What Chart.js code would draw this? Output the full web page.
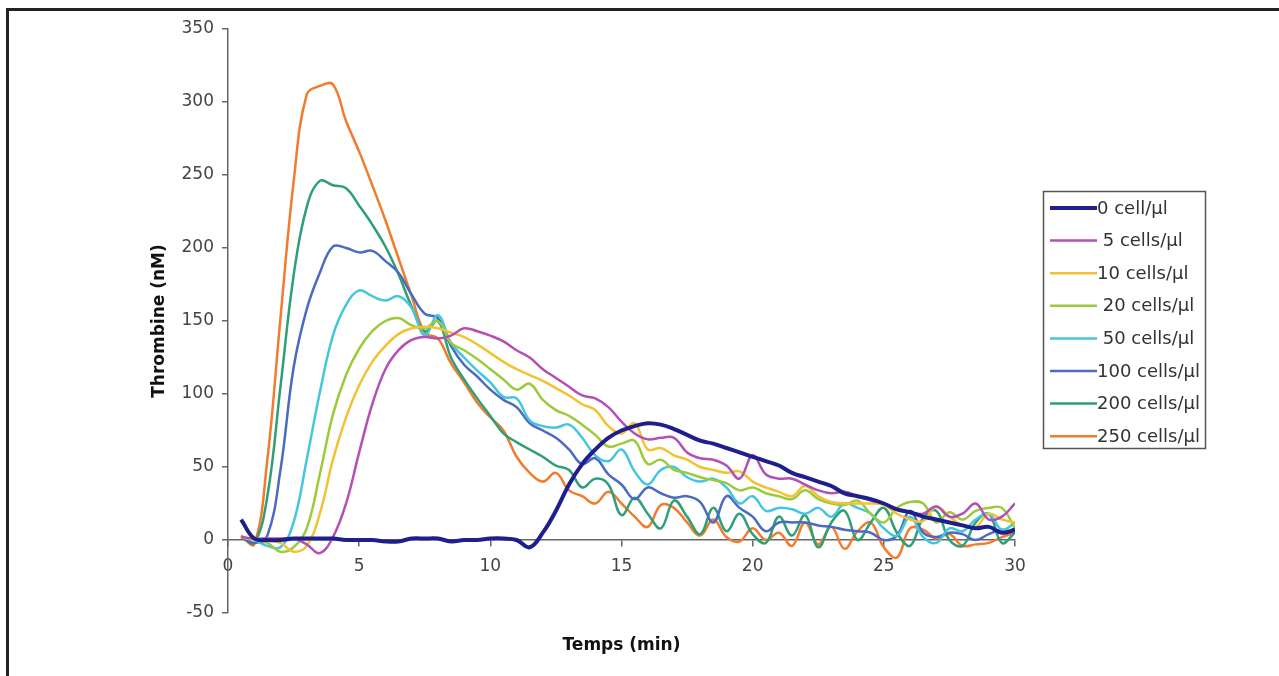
<!DOCTYPE html>
<html>
<head>
<meta charset="utf-8">
<title>Thrombine</title>
<script src="https://cdn.jsdelivr.net/npm/chart.js@4.4.1/dist/chart.umd.min.js"></script>
<style>
  body { margin: 0; background: #fff; overflow: hidden; }
  #frame { position: absolute; left: 6px; top: 8px; width: 1300px; height: 700px;
           border-left: 3px solid #222; border-top: 3px solid #222; }
  #chart { position: absolute; left: 0; top: 0; }
</style>
</head>
<body>
<div id="frame"></div>
<canvas id="chart" width="1279" height="676"></canvas>
<script>
// temps (min), pas de 0.5
const times = [0, 0.5, 1, 1.5, 2, 2.5, 3, 3.5, 4, 4.5, 5, 5.5, 6, 6.5, 7, 7.5, 8, 8.5, 9, 9.5,
  10, 10.5, 11, 11.5, 12, 12.5, 13, 13.5, 14, 14.5, 15, 15.5, 16, 16.5, 17, 17.5, 18, 18.5, 19, 19.5,
  20, 20.5, 21, 21.5, 22, 22.5, 23, 23.5, 24, 24.5, 25, 25.5, 26, 26.5, 27, 27.5, 28, 28.5, 29, 29.5, 30];

const seriesNames = ['0 cell/µl', ' 5 cells/µl', '10 cells/µl', ' 20 cells/µl', ' 50 cells/µl',
  '100 cells/µl', '200 cells/µl', '250 cells/µl'];
const seriesColors = ['#1e1f8c', '#b44fb4', '#f3c232', '#9bcb3b', '#44c6de', '#4b6bc1', '#2f9f77', '#f27b2c'];

// thrombine (nM)
const cells0 = [null, 14, 1, 0, 0, 1, 1, 1, 1, 0, 0, 0, -1, -1, 1, 1, 1, -1, 0, 0, 1, 1, 0, -5, 5, 20,
  38, 52, 62, 70, 75, 78, 80, 79, 76, 72, 68, 66, 63, 60, 57, 54, 51, 46, 43, 40, 37, 32, 30, 28, 25,
  21, 19, 16, 14, 12, 10, 8, 9, 5, 7];
const cells5 = [null, 2, 1, 1, 1, 1, -3, -9, 2, 25, 60, 93, 117, 130, 137, 139, 138, 140, 145, 143,
  140, 136, 130, 125, 117, 111, 105, 99, 97, 91, 81, 73, 69, 70, 70, 60, 56, 55, 51, 42, 58, 45, 42,
  42, 38, 34, 32, 33, 30, 27, 25, 21, 19, 18, 23, 16, 18, 25, 14, 16, 25];
const cells10 = [null, 2, 0, 0, -2, -8, -4, 18, 55, 84, 106, 122, 133, 141, 145, 146, 145, 142, 139,
  134, 128, 122, 117, 113, 109, 104, 99, 93, 89, 78, 73, 80, 62, 63, 58, 55, 50, 48, 46, 47, 40, 36,
  33, 30, 37, 30, 26, 25, 25, 25, 24, 18, 14, 13, 23, 16, 10, 9, 18, 14, 12];
const cells20 = [null, 2, 0, -2, -8, -5, 8, 45, 86, 113, 131, 143, 150, 152, 147, 145, 150, 135, 130,
  124, 117, 110, 103, 107, 96, 89, 85, 79, 72, 64, 66, 68, 52, 55, 48, 46, 43, 41, 39, 34, 36, 32, 30,
  28, 34, 28, 25, 24, 27, 18, 12, 22, 26, 25, 12, 19, 14, 20, 22, 22, 8];
const cells50 = [null, 2, 0, -4, -5, 12, 55, 101, 140, 161, 171, 167, 164, 167, 159, 140, 154, 135,
  125, 116, 108, 98, 97, 82, 78, 77, 79, 70, 58, 54, 62, 47, 38, 48, 50, 43, 40, 42, 36, 25, 30, 20,
  22, 21, 18, 22, 16, 25, 22, 18, 8, 3, 16, 2, -2, 8, 6, 14, 18, 7, 12];
const cells100 = [null, 2, -2, 3, 48, 118, 158, 183, 201, 200, 197, 198, 191, 183, 168, 155, 152, 133,
  120, 112, 103, 96, 91, 80, 75, 70, 62, 52, 56, 45, 38, 28, 36, 32, 29, 30, 26, 12, 30, 22, 16, 6,
  12, 12, 12, 10, 9, 7, 6, 5, 0, 3, 20, 5, 2, 5, 4, 0, 4, 7, 5];
const cells200 = [null, 2, -2, 30, 105, 181, 228, 246, 243, 241, 229, 216, 201, 182, 160, 143, 150,
  125, 110, 97, 85, 73, 67, 62, 57, 51, 48, 36, 42, 38, 17, 29, 18, 8, 27, 16, 4, 22, 6, 18, 4, -2,
  16, 3, 17, -5, 12, 20, 0, 12, 22, 5, -4, 15, 20, 0, -4, 12, 18, -2, 5];
const cells250 = [null, 3, -3, 55, 152, 245, 305, 311, 312, 287, 266, 243, 219, 193, 167, 142, 138,
  121, 108, 94, 84, 75, 57, 46, 40, 46, 34, 30, 25, 33, 25, 16, 9, 24, 22, 12, 3, 14, 2, -1, 8, 0, 5,
  -4, 12, -3, 9, -6, 6, 12, -5, -12, 8, 7, 1, 4, -4, -3, -2, 2, 5];

const allSeries = [cells0, cells5, cells10, cells20, cells50, cells100, cells200, cells250];

const FONT = "'DejaVu Sans', sans-serif";

// légende encadrée à droite, comme dans la figure
const boxedLegend = {
  id: 'boxedLegend',
  afterDraw(chart) {
    const ctx = chart.ctx;
    ctx.save();
    ctx.strokeStyle = '#555';
    ctx.lineWidth = 1.5;
    ctx.strokeRect(1043.5, 191.5, 162, 257);
    ctx.font = '18px ' + FONT;
    ctx.fillStyle = '#333';
    ctx.textBaseline = 'middle';
    chart.data.datasets.forEach(function (ds, i) {
      const y = 208 + i * 32.6;
      ctx.strokeStyle = ds.borderColor;
      ctx.lineWidth = ds.borderWidth;
      ctx.beginPath();
      ctx.moveTo(1050, y);
      ctx.lineTo(1097, y);
      ctx.stroke();
      ctx.fillText(ds.label, 1097, y + 1);
    });
    ctx.restore();
  }
};

const datasets = allSeries.map(function (values, i) {
  return {
    label: seriesNames[i],
    data: values.map(function (v, j) { return { x: times[j], y: v }; }),
    borderColor: seriesColors[i],
    backgroundColor: seriesColors[i],
    borderWidth: i === 0 ? 4 : 2.5,
    pointRadius: 0,
    tension: 0.4,
    fill: false
  };
});

new Chart(document.getElementById('chart'), {
  type: 'line',
  data: { datasets: datasets },
  plugins: [boxedLegend],
  options: {
    responsive: false,
    animation: false,
    devicePixelRatio: 1,
    layout: { padding: { left: 145, right: 264, top: 29, bottom: 63 } },
    plugins: { legend: { display: false }, tooltip: { enabled: false } },
    scales: {
      x: {
        type: 'linear',
        min: 0,
        max: 30,
        position: { y: 0 },
        afterFit: function (scale) { scale.height = 120; },
        ticks: { stepSize: 5, color: '#444', font: { family: FONT, size: 17 }, padding: 10, maxRotation: 0 },
        grid: { drawOnChartArea: false, drawTicks: true, tickLength: 6, color: '#666', lineWidth: 1.5 },
        border: { display: true, color: '#666', width: 1.5 },
        title: { display: true, text: 'Temps (min)', color: '#111', font: { family: FONT, size: 17, weight: 'bold' } }
      },
      y: {
        min: -50,
        max: 350,
        afterFit: function (scale) { scale.width = 83; },
        ticks: { stepSize: 50, color: '#444', font: { family: FONT, size: 17 }, padding: 8 },
        grid: { drawOnChartArea: false, drawTicks: true, tickLength: 6, color: '#666', lineWidth: 1.5 },
        border: { display: true, color: '#666', width: 1.5 },
        title: { display: true, text: 'Thrombine (nM)', color: '#111', font: { family: FONT, size: 17, weight: 'bold' } }
      }
    }
  }
});
</script>
</body>
</html>
